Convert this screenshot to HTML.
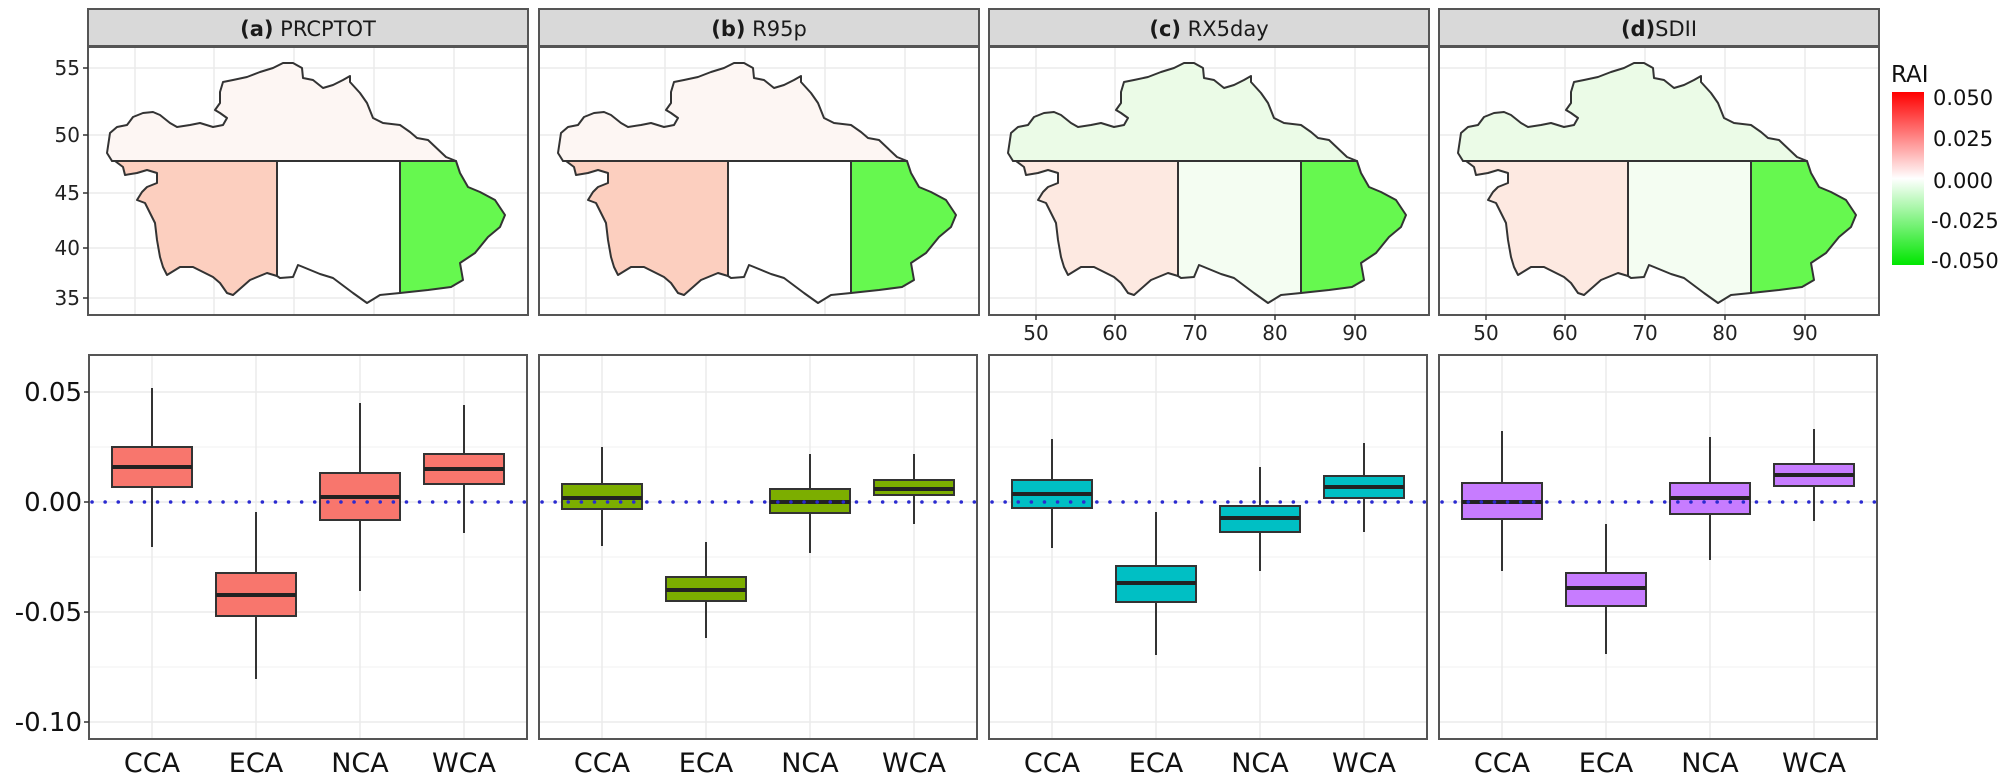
<!DOCTYPE html>
<html><head><meta charset="utf-8"><style>
html,body{margin:0;padding:0;background:#fff;}
svg{display:block;font-family:"DejaVu Sans","Liberation Sans",sans-serif;}
</style></head><body>
<svg width="2010" height="778" viewBox="0 0 2010 778" xmlns="http://www.w3.org/2000/svg">
<defs>
<linearGradient id="lg" x1="0" y1="0" x2="0" y2="1">
<stop offset="0" stop-color="#ff0000"/><stop offset="0.5" stop-color="#ffffff"/><stop offset="1" stop-color="#00e600"/>
</linearGradient>
<g id="grid">
<rect x="88" y="47" width="440" height="268" fill="#fff"/>
<g stroke="#ebebeb" stroke-width="1.5">
<line x1="135" y1="47" x2="135" y2="315"/><line x1="214" y1="47" x2="214" y2="315"/><line x1="294" y1="47" x2="294" y2="315"/><line x1="374" y1="47" x2="374" y2="315"/><line x1="454" y1="47" x2="454" y2="315"/>
<line x1="88" y1="68" x2="528" y2="68"/><line x1="88" y1="135" x2="528" y2="135"/><line x1="88" y1="193" x2="528" y2="193"/><line x1="88" y1="248" x2="528" y2="248"/><line x1="88" y1="298" x2="528" y2="298"/>
</g>
</g>
<path id="north" d="M107,153 L110,133 117,127 127,125 133,117 143,113 153,112 160,115 170,123 177,127 190,125 200,123 213,127 223,125 227,118 220,113 215,110 220,103 220,92 223,82 233,80 247,77 260,72 273,68 283,63 293,63 302,68 303,78 313,80 323,88 333,85 343,80 350,76 350,82 360,93 367,103 373,118 383,123 400,125 410,132 417,138 428,140 446,157 456,161 112,161 Z"/>
<path id="west" d="M112,161 L277,161 277,276 267,273 250,280 233,295 227,293 220,283 213,277 193,267 180,267 167,275 163,267 160,257 157,240 155,223 150,213 145,203 137,200 142,192 147,187 157,183 157,173 147,170 137,173 125,175 123,167 115,161 Z"/>
<path id="mid" d="M277,161 L400,161 400,293 380,295 367,303 353,293 333,278 320,274 303,267 298,265 293,277 280,278 277,276 Z"/>
<path id="east" d="M400,161 L456,161 460,173 468,187 480,192 495,200 505,215 500,227 488,237 475,253 460,263 463,280 451,287 428,290 400,293 Z"/>
<g id="bgrid">
<rect x="89" y="355" width="438" height="384" fill="#fff"/>
<g stroke="#f2f2f2" stroke-width="1"><line x1="89" y1="447" x2="527" y2="447"/><line x1="89" y1="557" x2="527" y2="557"/><line x1="89" y1="667" x2="527" y2="667"/></g>
<g stroke="#ebebeb" stroke-width="1.5">
<line x1="89" y1="392" x2="527" y2="392"/><line x1="89" y1="502" x2="527" y2="502"/><line x1="89" y1="612" x2="527" y2="612"/><line x1="89" y1="722" x2="527" y2="722"/>
<line x1="152" y1="355" x2="152" y2="739"/><line x1="256" y1="355" x2="256" y2="739"/><line x1="360" y1="355" x2="360" y2="739"/><line x1="464" y1="355" x2="464" y2="739"/>
</g>
</g>
</defs>

<g>
<use href="#grid"/>
<g stroke="#333" stroke-width="2" stroke-linejoin="round">
<use href="#north" fill="#fdf6f3"/><use href="#west" fill="#fccfbf"/><use href="#mid" fill="#ffffff"/><use href="#east" fill="#66f84f"/>
</g>
<rect x="88" y="47" width="440" height="268" fill="none" stroke="#555" stroke-width="2"/>
<rect x="88" y="9" width="440" height="37" fill="#d9d9d9" stroke="#555" stroke-width="2"/>
<text x="308" y="36" font-size="21" text-anchor="middle" fill="#1a1a1a"><tspan font-weight="bold">(a)</tspan> PRCPTOT</text>
</g>
<g transform="translate(451,0)">
<use href="#grid"/>
<g stroke="#333" stroke-width="2" stroke-linejoin="round">
<use href="#north" fill="#fdf6f3"/><use href="#west" fill="#fccfbf"/><use href="#mid" fill="#ffffff"/><use href="#east" fill="#66f84f"/>
</g>
<rect x="88" y="47" width="440" height="268" fill="none" stroke="#555" stroke-width="2"/>
<rect x="88" y="9" width="440" height="37" fill="#d9d9d9" stroke="#555" stroke-width="2"/>
<text x="308" y="36" font-size="21" text-anchor="middle" fill="#1a1a1a"><tspan font-weight="bold">(b)</tspan> R95p</text>
</g>
<g transform="translate(901,0)">
<use href="#grid"/>
<g stroke="#333" stroke-width="2" stroke-linejoin="round">
<use href="#north" fill="#ebfbe7"/><use href="#west" fill="#fde9e1"/><use href="#mid" fill="#f4fdf2"/><use href="#east" fill="#66f84f"/>
</g>
<rect x="88" y="47" width="440" height="268" fill="none" stroke="#555" stroke-width="2"/>
<rect x="88" y="9" width="440" height="37" fill="#d9d9d9" stroke="#555" stroke-width="2"/>
<text x="308" y="36" font-size="21" text-anchor="middle" fill="#1a1a1a"><tspan font-weight="bold">(c)</tspan> RX5day</text>
<g font-size="20" fill="#222" text-anchor="middle"><text x="135" y="340">50</text><text x="214" y="340">60</text><text x="294" y="340">70</text><text x="374" y="340">80</text><text x="454" y="340">90</text></g>
<g stroke="#333" stroke-width="1.5"><line x1="135" y1="315" x2="135" y2="320"/><line x1="214" y1="315" x2="214" y2="320"/><line x1="294" y1="315" x2="294" y2="320"/><line x1="374" y1="315" x2="374" y2="320"/><line x1="454" y1="315" x2="454" y2="320"/></g>
</g>
<g transform="translate(1351,0)">
<use href="#grid"/>
<g stroke="#333" stroke-width="2" stroke-linejoin="round">
<use href="#north" fill="#ebfbe7"/><use href="#west" fill="#fde9e1"/><use href="#mid" fill="#f4fdf2"/><use href="#east" fill="#66f84f"/>
</g>
<rect x="88" y="47" width="440" height="268" fill="none" stroke="#555" stroke-width="2"/>
<rect x="88" y="9" width="440" height="37" fill="#d9d9d9" stroke="#555" stroke-width="2"/>
<text x="308" y="36" font-size="21" text-anchor="middle" fill="#1a1a1a"><tspan font-weight="bold">(d)</tspan>SDII</text>
<g font-size="20" fill="#222" text-anchor="middle"><text x="135" y="340">50</text><text x="214" y="340">60</text><text x="294" y="340">70</text><text x="374" y="340">80</text><text x="454" y="340">90</text></g>
<g stroke="#333" stroke-width="1.5"><line x1="135" y1="315" x2="135" y2="320"/><line x1="214" y1="315" x2="214" y2="320"/><line x1="294" y1="315" x2="294" y2="320"/><line x1="374" y1="315" x2="374" y2="320"/><line x1="454" y1="315" x2="454" y2="320"/></g>
</g>
<g font-size="20" fill="#222" text-anchor="end"><text x="80" y="75">55</text><text x="80" y="142">50</text><text x="80" y="200">45</text><text x="80" y="255">40</text><text x="80" y="305">35</text></g>
<g stroke="#333" stroke-width="1.5"><line x1="83" y1="68" x2="88" y2="68"/><line x1="83" y1="135" x2="88" y2="135"/><line x1="83" y1="193" x2="88" y2="193"/><line x1="83" y1="248" x2="88" y2="248"/><line x1="83" y1="298" x2="88" y2="298"/></g>

<text x="1891" y="82" font-size="23" fill="#111">RAI</text>
<rect x="1892" y="92" width="32" height="173" fill="url(#lg)"/>
<g font-size="21" fill="#111"><text x="1933" y="105">0.050</text><text x="1933" y="146">0.025</text><text x="1933" y="188">0.000</text><text x="1931" y="228">-0.025</text><text x="1931" y="268">-0.050</text></g>

<use href="#bgrid"/><use href="#bgrid" transform="translate(450,0)"/><use href="#bgrid" transform="translate(900,0)"/><use href="#bgrid" transform="translate(1350,0)"/>

<g stroke="#333" stroke-width="2">
<line x1="152" y1="388" x2="152" y2="547"/><rect x="112" y="447" width="80" height="40" fill="#F8766D"/><line x1="112" y1="467" x2="192" y2="467" stroke="#222" stroke-width="4"/>
<line x1="256" y1="512" x2="256" y2="679"/><rect x="216" y="573" width="80" height="43" fill="#F8766D"/><line x1="216" y1="595" x2="296" y2="595" stroke="#222" stroke-width="4"/>
<line x1="360" y1="403" x2="360" y2="591"/><rect x="320" y="473" width="80" height="47" fill="#F8766D"/><line x1="320" y1="497" x2="400" y2="497" stroke="#222" stroke-width="4"/>
<line x1="464" y1="405" x2="464" y2="533"/><rect x="424" y="454" width="80" height="30" fill="#F8766D"/><line x1="424" y1="469" x2="504" y2="469" stroke="#222" stroke-width="4"/>
<line x1="602" y1="447" x2="602" y2="546"/><rect x="562" y="484" width="80" height="25" fill="#7CAE00"/><line x1="562" y1="498" x2="642" y2="498" stroke="#222" stroke-width="4"/>
<line x1="706" y1="542" x2="706" y2="638"/><rect x="666" y="577" width="80" height="24" fill="#7CAE00"/><line x1="666" y1="590" x2="746" y2="590" stroke="#222" stroke-width="4"/>
<line x1="810" y1="454" x2="810" y2="553"/><rect x="770" y="489" width="80" height="24" fill="#7CAE00"/><line x1="770" y1="502" x2="850" y2="502" stroke="#222" stroke-width="4"/>
<line x1="914" y1="454" x2="914" y2="524"/><rect x="874" y="480" width="80" height="15" fill="#7CAE00"/><line x1="874" y1="489" x2="954" y2="489" stroke="#222" stroke-width="4"/>
<line x1="1052" y1="439" x2="1052" y2="548"/><rect x="1012" y="480" width="80" height="28" fill="#00BFC4"/><line x1="1012" y1="494" x2="1092" y2="494" stroke="#222" stroke-width="4"/>
<line x1="1156" y1="512" x2="1156" y2="655"/><rect x="1116" y="566" width="80" height="36" fill="#00BFC4"/><line x1="1116" y1="583" x2="1196" y2="583" stroke="#222" stroke-width="4"/>
<line x1="1260" y1="467" x2="1260" y2="571"/><rect x="1220" y="506" width="80" height="26" fill="#00BFC4"/><line x1="1220" y1="518" x2="1300" y2="518" stroke="#222" stroke-width="4"/>
<line x1="1364" y1="443" x2="1364" y2="532"/><rect x="1324" y="476" width="80" height="22" fill="#00BFC4"/><line x1="1324" y1="487" x2="1404" y2="487" stroke="#222" stroke-width="4"/>
<line x1="1502" y1="431" x2="1502" y2="571"/><rect x="1462" y="483" width="80" height="36" fill="#C77CFF"/><line x1="1462" y1="502" x2="1542" y2="502" stroke="#222" stroke-width="4"/>
<line x1="1606" y1="524" x2="1606" y2="654"/><rect x="1566" y="573" width="80" height="33" fill="#C77CFF"/><line x1="1566" y1="588" x2="1646" y2="588" stroke="#222" stroke-width="4"/>
<line x1="1710" y1="437" x2="1710" y2="560"/><rect x="1670" y="483" width="80" height="31" fill="#C77CFF"/><line x1="1670" y1="498" x2="1750" y2="498" stroke="#222" stroke-width="4"/>
<line x1="1814" y1="429" x2="1814" y2="521"/><rect x="1774" y="464" width="80" height="22" fill="#C77CFF"/><line x1="1774" y1="475" x2="1854" y2="475" stroke="#222" stroke-width="4"/>
</g>
<g stroke="#2a2ad0" stroke-width="3.5" stroke-linecap="round" stroke-dasharray="0.1,13">
<line x1="92" y1="502" x2="527" y2="502"/><line x1="542" y1="502" x2="977" y2="502"/><line x1="992" y1="502" x2="1427" y2="502"/><line x1="1442" y1="502" x2="1877" y2="502"/>
</g>
<g fill="none" stroke="#555" stroke-width="2">
<rect x="89" y="355" width="438" height="384"/><rect x="539" y="355" width="438" height="384"/><rect x="989" y="355" width="438" height="384"/><rect x="1439" y="355" width="438" height="384"/>
</g>
<g font-size="26" fill="#111" text-anchor="end"><text x="82" y="401">0.05</text><text x="82" y="511">0.00</text><text x="82" y="621">-0.05</text><text x="82" y="731">-0.10</text></g>
<g stroke="#333" stroke-width="1.5"><line x1="84" y1="392" x2="89" y2="392"/><line x1="84" y1="502" x2="89" y2="502"/><line x1="84" y1="612" x2="89" y2="612"/><line x1="84" y1="722" x2="89" y2="722"/></g>
<g font-size="27" fill="#111" text-anchor="middle">
<text x="152" y="772">CCA</text><text x="256" y="772">ECA</text><text x="360" y="772">NCA</text><text x="464" y="772">WCA</text>
<text x="602" y="772">CCA</text><text x="706" y="772">ECA</text><text x="810" y="772">NCA</text><text x="914" y="772">WCA</text>
<text x="1052" y="772">CCA</text><text x="1156" y="772">ECA</text><text x="1260" y="772">NCA</text><text x="1364" y="772">WCA</text>
<text x="1502" y="772">CCA</text><text x="1606" y="772">ECA</text><text x="1710" y="772">NCA</text><text x="1814" y="772">WCA</text>
</g>
</svg>
</body></html>
